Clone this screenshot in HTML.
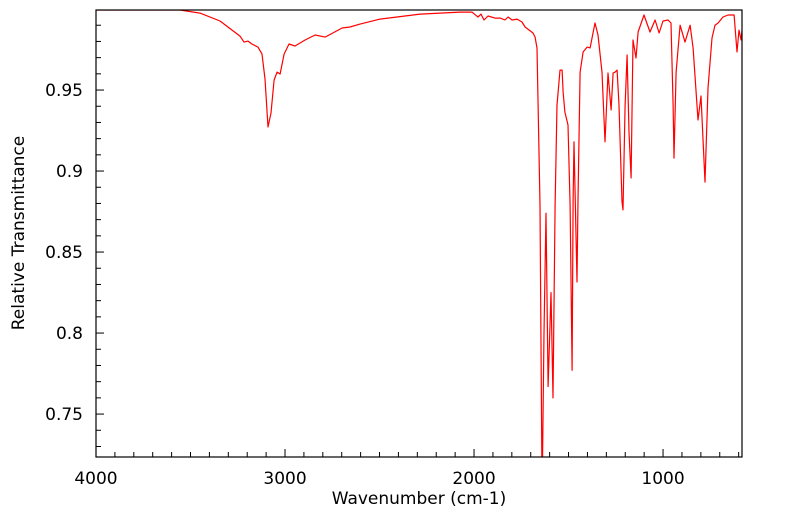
<!DOCTYPE html>
<html><head><meta charset="utf-8"><style>
html,body{margin:0;padding:0;background:#fff;}
svg{display:block;font-family:"DejaVu Sans","Liberation Sans",sans-serif;}
</style></head><body>
<svg id="chart" width="799" height="516">
<defs><clipPath id="clip"><rect x="96" y="10" width="646" height="447"/></clipPath></defs>
<rect x="0" y="0" width="799" height="516" fill="#fff"/>
<g id="ticks"></g>
<polyline id="spectrum" fill="none" stroke="#ff0000" stroke-width="1.2" stroke-linejoin="round" clip-path="url(#clip)"/>
<rect x="96" y="10" width="646" height="447" fill="none" stroke="#000" stroke-width="1.2"/>
<text x="419" y="504" font-size="17" text-anchor="middle">Wavenumber (cm-1)</text>
<text transform="translate(24,233) rotate(-90)" font-size="17" text-anchor="middle">Relative Transmittance</text>
</svg>
<script>
const wavenumbers=[4000,3556,3450,3344,3238,3217,3196,3175,3143,3122,3106,3090,3074,3058,3042,3026,3005,2979,2947,2894,2841,2788,2698,2656,2603,2497,2286,2074,2011,1979,1963,1947,1926,1889,1862,1836,1820,1799,1772,1746,1730,1688,1677,1667,1661,1651,1640,1630,1619,1608,1593,1582,1571,1561,1545,1534,1529,1519,1503,1492,1481,1476,1471,1455,1450,1439,1423,1402,1386,1360,1344,1323,1307,1291,1275,1264,1254,1243,1233,1217,1212,1201,1190,1180,1169,1159,1143,1132,1101,1069,1042,1021,1000,974,958,947,942,931,910,884,857,841,815,799,778,762,741,725,709,683,656,624,609,598,587,577];
const transmittance=[0.9994,0.9994,0.9975,0.9926,0.9833,0.9796,0.9802,0.9784,0.9765,0.9722,0.9568,0.9272,0.9358,0.9562,0.9611,0.9599,0.9722,0.9784,0.9772,0.9809,0.984,0.9827,0.9883,0.9889,0.9907,0.9938,0.9969,0.9981,0.9981,0.995,0.9969,0.9932,0.9957,0.9944,0.9944,0.9932,0.9951,0.9932,0.9938,0.992,0.9889,0.9852,0.9827,0.9759,0.9407,0.879,0.70,0.80,0.874,0.767,0.825,0.760,0.879,0.9407,0.9623,0.9623,0.9488,0.9364,0.9284,0.879,0.777,0.882,0.918,0.8315,0.882,0.961,0.9735,0.9765,0.976,0.9914,0.984,0.961,0.918,0.9605,0.9377,0.9605,0.961,0.9623,0.9407,0.881,0.876,0.9407,0.9716,0.924,0.8957,0.9809,0.9698,0.9858,0.9963,0.9858,0.9932,0.9852,0.9926,0.9932,0.9914,0.9407,0.908,0.961,0.990,0.9796,0.990,0.976,0.9315,0.9463,0.8932,0.9512,0.9821,0.990,0.9914,0.9951,0.9963,0.9963,0.9735,0.987,0.9809,0.9932];
const xTickLabels=[4000,3000,2000,1000];
const yTickLabels=[0.75,0.8,0.85,0.9,0.95];
const X0=96,X1=742,Y0=10,Y1=457;
const XMAX=4000,XMIN=582.3,YMAX=0.9994,YMIN=0.7235;
function xs(w){return X0+(XMAX-w)/(XMAX-XMIN)*(X1-X0);}
function ys(t){return Y0+(YMAX-t)/(YMAX-YMIN)*(Y1-Y0);}
const NS='http://www.w3.org/2000/svg';
const line=document.getElementById('spectrum');
line.setAttribute('points',wavenumbers.map((w,i)=>xs(w).toFixed(1)+','+ys(transmittance[i]).toFixed(1)).join(' '));
const g=document.getElementById('ticks');
function mk(tag,attrs){const e=document.createElementNS(NS,tag);for(const k in attrs)e.setAttribute(k,attrs[k]);g.appendChild(e);return e;}
for(let w=4000;w>=XMIN;w-=100){
  const x=xs(w);const major=(w%1000===0);
  const t=mk('line',{x1:x,x2:x,y1:Y1,y2:Y1-(major?8:5),stroke:'#000','stroke-width':1});
  
  
}
xTickLabels.forEach(v=>{
  const t=mk('text',{x:xs(v),y:484,'font-size':17,'text-anchor':'middle'});
  t.textContent=String(v);
  
  
});
for(let k=73;k<=99;k++){
  const v=k/100;const y=ys(v);if(y<Y0||y>Y1)continue;
  const major=(k%5===0);
  const t=mk('line',{x1:X0,x2:X0+(major?8:5),y1:y,y2:y,stroke:'#000','stroke-width':1});
  
  
}
yTickLabels.forEach(v=>{
  const t=mk('text',{x:83,y:ys(v)+6,'font-size':17,'text-anchor':'end'});
  t.textContent=String(v);
  
  
});
</script>
</body></html>
